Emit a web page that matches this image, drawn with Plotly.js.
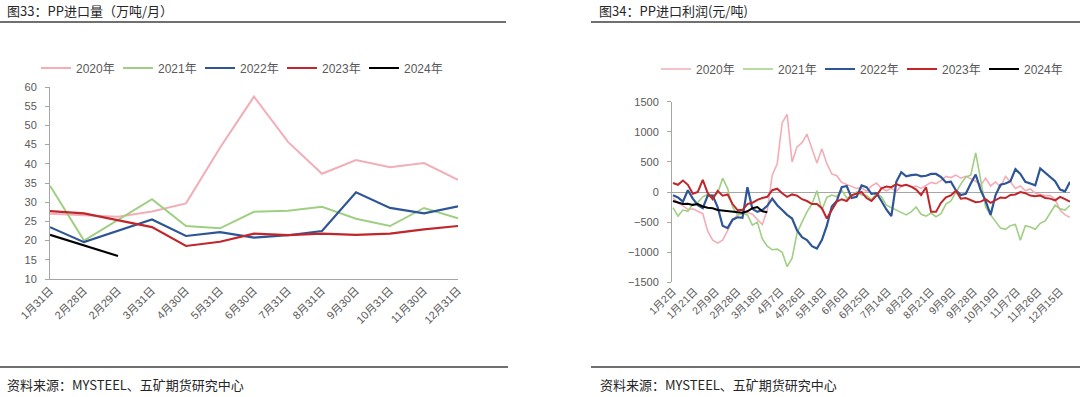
<!DOCTYPE html>
<html>
<head>
<meta charset="utf-8">
<script src="https://cdn.plot.ly/plotly-3.0.1.min.js"></script>
<style>
html,body{margin:0;padding:0;background:#fff;}
#chart{width:1080px;height:397px;}
</style>
</head>
<body>
<div id="chart"></div>
<script>
// ---------- Data: left chart (PP import volume, 万吨/月) ----------
const monthCats = ['1月31日','2月28日','2月29日','3月31日','4月30日','5月31日','6月30日','7月31日','8月31日','9月30日','10月31日','11月30日','12月31日'];
const imp2020 = [27.0, null, 26.2, 27.6, 29.7, 44.2, 57.5, 45.7, 37.4, 41.0, 39.1, 40.2, 35.8];
const imp2021 = [34.3, 20.0, null, 30.8, 23.8, 23.2, 27.5, 27.8, 28.8, 25.7, 23.8, 28.5, 25.8];
const imp2022 = [23.5, 19.6, null, 25.5, 21.2, 22.2, 20.8, 21.4, 22.5, 32.6, 28.5, 27.1, 28.9];
const imp2023 = [27.7, 27.1, null, 23.5, 18.6, 19.7, 21.8, 21.4, 21.8, 21.5, 21.8, 22.9, 23.8];
const imp2024 = [21.5, null, 16.0, null, null, null, null, null, null, null, null, null, null];

// ---------- Data: right chart (PP import profit, 元/吨), one value every 3 trading days ----------
const dayStep = 3;
const dateTickLabels = ['1月2日','1月21日','2月9日','2月28日','3月18日','4月7日','4月26日','5月18日','6月6日','6月25日','7月14日','8月2日','8月21日','9月9日','9月28日','10月19日','11月7日','11月26日','12月15日'];
const dateTickEvery = 13; // trading days between labels
const prof2020 = [-100,-180,-230,-290,-280,-320,-360,-650,-800,-850,-800,-640,-470,-380,-360,-340,-370,-460,-540,-300,
  280,470,1150,1290,500,750,820,960,700,480,720,470,300,270,160,130,90,60,70,10,
  100,150,60,20,60,10,100,120,80,100,60,110,160,140,190,260,240,280,230,260,
  220,180,110,230,100,170,80,260,170,60,100,20,50,-20,-40,-60,-60,-120,-300,-380,-420];
const prof2021 = [-260,-400,-300,-320,-200,-170,-80,-40,-60,-20,230,60,-250,-380,-360,-380,-550,-500,-780,-900,
  -960,-950,-1000,-1240,-1100,-680,-500,-330,-200,20,-300,-90,-50,-80,30,-100,-60,0,-50,-60,
  -130,-20,-80,-220,-260,-300,-350,-380,-330,-250,-370,-400,-350,-410,-360,-200,-150,0,130,250,
  280,650,200,-250,-380,-500,-600,-620,-560,-540,-800,-560,-580,-620,-520,-480,-340,-220,-280,-300,-220];
const prof2022 = [-55,-90,-160,30,-110,-220,-270,-60,-60,-250,-560,-600,-460,-420,-430,80,-280,-330,-300,-230,
  -110,-220,-300,-380,-440,-640,-750,-800,-900,-940,-800,-560,-240,-150,80,100,-100,-80,110,80,
  -30,-20,-150,-290,-400,170,330,260,280,290,260,270,300,300,250,160,170,30,-50,-30,
  140,290,30,-150,-380,-50,120,140,180,380,300,170,140,110,390,320,250,180,40,10,170];
const prof2023 = [150,120,190,120,-30,0,200,-20,-120,20,-60,-40,-200,-300,-300,-200,-180,-130,-100,-80,
  30,55,-20,-80,-40,-60,-120,-150,-200,-200,-270,-440,-300,-160,-120,-150,-55,-30,0,-100,
  -150,-60,60,90,80,130,100,120,90,40,-50,80,-330,-330,-180,-90,-55,20,-110,-100,
  -140,-170,-160,-120,-180,-140,-90,-100,-50,-40,0,-20,-60,-70,-60,-100,-110,-140,-80,-120,-160];
const prof2024 = [-150,-170,-200,-195,-215,-200,-240,-260,-270,-300,-310,-320,-335,-335,-345,-320,-270,-250,-320,-335];

const years = ['2020年','2021年','2022年','2023年','2024年'];
const colors = ['#F2AEB7','#9FCF82','#2E5596','#C0262C','#000000'];

// ---------- Layout helpers (pixels -> paper) ----------
const W = 1080, H = 397;
const fx = x => x / W;
const fy = y => 1 - y / H;

const impSeries = [imp2020, imp2021, imp2022, imp2023, imp2024];
const profSeries = [prof2020, prof2021, prof2022, prof2023, prof2024];
const leftWidths = [2, 2, 2.2, 2.2, 2.2];
const rightWidths = [1.6, 1.6, 2.2, 2.0, 2.0];

const traces = [];
impSeries.forEach((s, k) => {
  traces.push({
    type: 'scatter', mode: 'lines', name: years[k],
    x: monthCats, y: s, xaxis: 'x', yaxis: 'y',
    connectgaps: true,
    line: {color: colors[k], width: leftWidths[k]},
    legend: 'legend', hoverinfo: 'skip'
  });
});
profSeries.forEach((s, k) => {
  traces.push({
    type: 'scatter', mode: 'lines', name: years[k],
    x: s.map((v, i) => i * dayStep), y: s, xaxis: 'x2', yaxis: 'y2',
    line: {color: colors[k], width: rightWidths[k]},
    legend: 'legend2', hoverinfo: 'skip'
  });
});

const tickFont = {family: 'Liberation Sans, Noto Sans CJK SC, sans-serif', size: 11, color: '#595959'};
const cjk = 'Noto Sans CJK SC, sans-serif';

const layout = {
  width: W, height: H,
  margin: {l: 0, r: 0, t: 0, b: 0},
  paper_bgcolor: '#ffffff', plot_bgcolor: 'rgba(0,0,0,0)',
  showlegend: true,
  xaxis: {
    domain: [fx(50), fx(458)], anchor: 'y', type: 'category',
    showline: true, linecolor: '#A6A6A6', linewidth: 1,
    showgrid: false, zeroline: false, ticks: '',
    tickangle: -45, tickfont: tickFont, fixedrange: true
  },
  yaxis: {
    domain: [fy(279), fy(87)], anchor: 'x', range: [10, 60], dtick: 5,
    showline: true, linecolor: '#A6A6A6', linewidth: 1,
    ticks: 'outside', ticklen: 4, tickcolor: '#A6A6A6',
    showgrid: false, zeroline: false, tickfont: tickFont, ticklabelstandoff: 6, fixedrange: true
  },
  xaxis2: {
    domain: [fx(672), fx(1070)], anchor: 'y2', range: [-0.6, 240],
    tickmode: 'array',
    tickvals: dateTickLabels.map((t, i) => i * dateTickEvery),
    ticktext: dateTickLabels,
    showline: false, showgrid: false, zeroline: false, ticks: '',
    tickangle: -45, tickfont: {family: tickFont.family, size: 10.5, color: '#595959'}, fixedrange: true
  },
  yaxis2: {
    domain: [fy(282.3), fy(101.7)], anchor: 'x2', range: [-1500, 1500], dtick: 500,
    showline: true, linecolor: '#A6A6A6', linewidth: 1,
    ticks: 'outside', ticklen: 4, tickcolor: '#A6A6A6',
    showgrid: false, zeroline: true, zerolinecolor: '#A6A6A6', zerolinewidth: 1,
    tickfont: tickFont, ticklabelstandoff: 6, fixedrange: true
  },
  legend: {
    orientation: 'h', x: fx(36), xanchor: 'left', y: fy(68), yanchor: 'middle',
    font: {family: tickFont.family, size: 12, color: '#595959'},
    entrywidth: 37, entrywidthmode: 'pixels', bgcolor: 'rgba(0,0,0,0)', itemclick: false, itemdoubleclick: false
  },
  legend2: {
    orientation: 'h', x: fx(656), xanchor: 'left', y: fy(69), yanchor: 'middle',
    font: {family: tickFont.family, size: 12, color: '#595959'},
    entrywidth: 37, entrywidthmode: 'pixels', bgcolor: 'rgba(0,0,0,0)', itemclick: false, itemdoubleclick: false
  },
  annotations: [
    {text: '图33：PP进口量（万吨/月）', xref: 'paper', yref: 'paper', x: fx(5), y: fy(10), xanchor: 'left', yanchor: 'middle', showarrow: false, font: {family: cjk, size: 13, color: '#262626'}},
    {text: '图34：PP进口利润(元/吨)', xref: 'paper', yref: 'paper', x: fx(597), y: fy(10), xanchor: 'left', yanchor: 'middle', showarrow: false, font: {family: cjk, size: 13, color: '#262626'}},
    {text: '资料来源：MYSTEEL、五矿期货研究中心', xref: 'paper', yref: 'paper', x: fx(5), y: fy(384), xanchor: 'left', yanchor: 'middle', showarrow: false, font: {family: cjk, size: 13, color: '#262626'}},
    {text: '资料来源：MYSTEEL、五矿期货研究中心', xref: 'paper', yref: 'paper', x: fx(598), y: fy(384), xanchor: 'left', yanchor: 'middle', showarrow: false, font: {family: cjk, size: 13, color: '#262626'}}
  ],
  shapes: [
    {type: 'line', xref: 'paper', yref: 'paper', x0: 0, x1: fx(506), y0: fy(22), y1: fy(22), line: {color: '#404040', width: 1.5}},
    {type: 'line', xref: 'paper', yref: 'paper', x0: fx(591), x1: 1, y0: fy(22), y1: fy(22), line: {color: '#404040', width: 1.5}},
    {type: 'line', xref: 'paper', yref: 'paper', x0: 0, x1: fx(508), y0: fy(367), y1: fy(367), line: {color: '#404040', width: 1.5}},
    {type: 'line', xref: 'paper', yref: 'paper', x0: fx(591), x1: 1, y0: fy(367), y1: fy(367), line: {color: '#404040', width: 1.5}}
  ]
};

Plotly.newPlot('chart', traces, layout, {staticPlot: true, displayModeBar: false});
</script>
</body>
</html>
